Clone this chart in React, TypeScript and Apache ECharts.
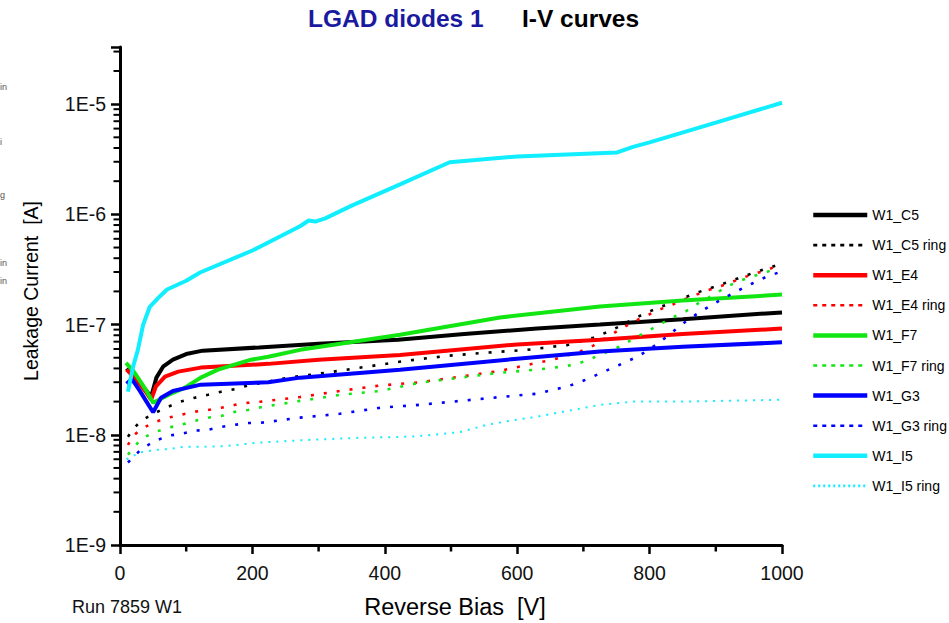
import React, { useEffect, useRef } from "react";
import * as echarts from "echarts";

// ---------- data (Reverse bias [V], leakage current [A]) ----------
const C5: [number, number][] = [
  [10, 4.0e-8], [20, 3.4e-8], [30, 2.9e-8], [40, 2.5e-8], [47, 2.2e-8], [55, 3.3e-8], [65, 4.15e-8],
  [80, 4.8e-8], [100, 5.4e-8], [125, 5.8e-8], [210, 6.2e-8], [300, 6.7e-8], [420, 7.3e-8], [520, 8.2e-8],
  [630, 9.2e-8], [725, 1.0e-7], [850, 1.12e-7], [1000, 1.29e-7],
];
const C5_RING: [number, number][] = [
  [12, 9.6e-9], [20, 1.13e-8], [32, 1.34e-8], [53, 1.58e-8], [73, 1.8e-8], [92, 2.0e-8], [113, 2.17e-8],
  [133, 2.31e-8], [153, 2.46e-8], [174, 2.6e-8], [193, 2.8e-8], [254, 3.3e-8], [312, 3.66e-8],
  [373, 4.15e-8], [433, 4.7e-8], [494, 5.2e-8], [554, 5.56e-8], [615, 5.9e-8], [654, 6.3e-8],
  [675, 6.5e-8], [715, 7.6e-8], [735, 8.5e-8], [754, 9.6e-8], [775, 1.12e-7], [795, 1.28e-7],
  [835, 1.6e-7], [875, 1.98e-7], [914, 2.38e-7], [955, 2.92e-7], [995, 3.5e-7],
];
const E4: [number, number][] = [
  [10, 3.9e-8], [20, 3.4e-8], [30, 2.9e-8], [40, 2.4e-8], [47, 2.08e-8], [54, 2.73e-8], [68, 3.37e-8],
  [88, 3.74e-8], [122, 4.07e-8], [224, 4.4e-8], [300, 4.8e-8], [423, 5.3e-8], [600, 6.6e-8],
  [725, 7.3e-8], [850, 8.2e-8], [1000, 9.2e-8],
];
const E4_RING: [number, number][] = [
  [12, 8.1e-9], [20, 9.8e-9], [32, 1.13e-8], [53, 1.31e-8], [73, 1.43e-8], [92, 1.52e-8], [113, 1.62e-8],
  [133, 1.68e-8], [153, 1.76e-8], [174, 1.87e-8], [193, 1.95e-8], [213, 2.0e-8], [272, 2.2e-8],
  [332, 2.5e-8], [393, 2.8e-8], [453, 3.0e-8], [514, 3.37e-8], [574, 3.8e-8], [630, 4.5e-8],
  [654, 4.8e-8], [695, 5.7e-8], [715, 6.45e-8], [752, 8.8e-8], [773, 1.04e-7], [795, 1.2e-7],
  [815, 1.37e-7], [835, 1.52e-7], [855, 1.72e-7], [875, 1.91e-7], [895, 2.12e-7], [914, 2.3e-7],
  [934, 2.57e-7], [955, 2.85e-7], [975, 3.1e-7], [995, 3.44e-7],
];
const F7: [number, number][] = [
  [9, 4.5e-8], [20, 3.8e-8], [30, 3.1e-8], [40, 2.5e-8], [50, 1.95e-8], [73, 2.3e-8], [98, 2.67e-8],
  [122, 3.3e-8], [148, 3.9e-8], [198, 4.8e-8], [224, 5.1e-8], [272, 5.9e-8], [423, 8.1e-8],
  [574, 1.16e-7], [725, 1.46e-7], [850, 1.65e-7], [1000, 1.87e-7],
];
const F7_RING: [number, number][] = [
  [12, 6.6e-9], [32, 9.2e-9], [53, 1.06e-8], [73, 1.16e-8], [92, 1.23e-8], [113, 1.34e-8], [133, 1.43e-8],
  [153, 1.48e-8], [174, 1.62e-8], [193, 1.68e-8], [213, 1.78e-8], [272, 2.03e-8], [332, 2.3e-8],
  [393, 2.5e-8], [453, 2.97e-8], [514, 3.3e-8], [574, 3.66e-8], [630, 3.9e-8], [675, 4.2e-8],
  [695, 4.5e-8], [715, 5.0e-8], [754, 6.3e-8], [775, 7.4e-8], [795, 8.6e-8], [815, 1.0e-7],
  [835, 1.16e-7], [855, 1.32e-7], [875, 1.58e-7], [895, 1.83e-7], [914, 2.17e-7], [934, 2.46e-7],
  [955, 2.73e-7], [975, 2.97e-7], [995, 3.3e-7],
];
const G3: [number, number][] = [
  [10, 2.9e-8], [18, 3.2e-8], [30, 2.5e-8], [40, 2.0e-8], [50, 1.6e-8], [62, 2.17e-8], [80, 2.5e-8],
  [122, 2.85e-8], [224, 3.0e-8], [272, 3.3e-8], [423, 3.9e-8], [600, 4.9e-8], [725, 5.7e-8],
  [850, 6.3e-8], [1000, 6.9e-8],
];
const G3_RING: [number, number][] = [
  [12, 5.6e-9], [32, 7.4e-9], [53, 8.8e-9], [73, 9.8e-9], [92, 1.02e-8], [113, 1.09e-8], [133, 1.11e-8],
  [153, 1.18e-8], [193, 1.28e-8], [211, 1.28e-8], [272, 1.43e-8], [332, 1.55e-8], [393, 1.76e-8],
  [453, 1.87e-8], [514, 2.03e-8], [574, 2.2e-8], [630, 2.36e-8], [674, 2.73e-8], [693, 2.97e-8],
  [714, 3.37e-8], [734, 3.8e-8], [754, 4.3e-8], [775, 4.9e-8], [795, 5.7e-8], [815, 6.9e-8],
  [835, 8.6e-8], [855, 1.07e-7], [875, 1.29e-7], [895, 1.52e-7], [914, 1.76e-7], [934, 2.04e-7],
  [955, 2.36e-7], [975, 2.69e-7], [995, 2.97e-7],
];
const I5: [number, number][] = [
  [12, 2.46e-8], [20, 4.2e-8], [27, 5.9e-8], [35, 1.0e-7], [45, 1.45e-7], [60, 1.8e-7], [71, 2.08e-7],
  [100, 2.5e-7], [121, 2.97e-7], [200, 4.7e-7], [272, 7.8e-7], [285, 8.8e-7], [295, 8.6e-7],
  [310, 9.2e-7], [350, 1.2e-6], [423, 1.87e-6], [498, 2.97e-6], [600, 3.35e-6], [751, 3.65e-6],
  [775, 4.1e-6], [800, 4.5e-6], [900, 6.8e-6], [1000, 1.03e-5],
];
const I5_RING: [number, number][] = [
  [10, 6.0e-9], [30, 6.9e-9], [53, 7.3e-9], [73, 7.4e-9], [98, 7.8e-9], [128, 7.8e-9], [159, 7.9e-9],
  [211, 8.5e-9], [287, 9.0e-9], [363, 9.4e-9], [438, 9.6e-9], [473, 1.0e-8], [514, 1.06e-8],
  [554, 1.23e-8], [589, 1.34e-8], [630, 1.46e-8], [725, 1.87e-8], [775, 2.0e-8], [850, 2.0e-8],
  [1000, 2.08e-8],
];

const SERIES_NAMES = [
  "W1_C5", "W1_C5 ring", "W1_E4", "W1_E4 ring", "W1_F7", "W1_F7 ring",
  "W1_G3", "W1_G3 ring", "W1_I5", "W1_I5 ring",
];
const SERIES_DATA = [C5, C5_RING, E4, E4_RING, F7, F7_RING, G3, G3_RING, I5, I5_RING];
const SERIES_COLORS = [
  "#000000", "#000000", "#ff0000", "#ff0000", "#12e612", "#12e612",
  "#0000ff", "#0000ff", "#10eeff", "#10eeff",
];

// axis definitions
const X_MIN = 0;
const X_MAX = 1000;
const X_INTERVAL = 200;
const X_MINOR_TICKS = [100, 300, 500, 700, 900];
const Y_MIN = 1e-9;
const Y_MAX = 3.3e-5;
const Y_DECADES = [-9, -8, -7, -6, -5];
const Y_MINOR_MULTS = [2, 3, 4, 5, 6, 7, 8, 9];

const TITLE_1 = "LGAD diodes 1";
const TITLE_2 = "I-V curves";
const X_NAME = "Reverse Bias  [V]";
const Y_NAME = "Leakage Current  [A]";
const RUN_LABEL = "Run 7859 W1";
const EDGE_FRAGMENTS = ["in", "i", "g", "in", "in"];

const SANS = "'Liberation Sans', Arial, sans-serif";

export default function App() {
  const ref = useRef<HTMLDivElement>(null);

  useEffect(() => {
    if (!ref.current) return;
    const chart = echarts.init(ref.current, undefined, { renderer: "svg" });

    const series: any[] = SERIES_NAMES.map((name, i) => {
      const isRing = name.endsWith("ring");
      const isCyanRing = name === "W1_I5 ring";
      return {
        name,
        type: "line",
        data: SERIES_DATA[i],
        symbol: "none",
        showSymbol: false,
        color: SERIES_COLORS[i],
        lineStyle: {
          color: SERIES_COLORS[i],
          width: isRing ? (isCyanRing ? 2 : 2.6) : 4,
          type: isRing ? (isCyanRing ? [2, 6] : [3, 10]) : "solid",
          cap: "butt",
        },
        z: 2 + i,
      };
    });

    const fragY = [87, 142, 195, 263, 281];

    const baseGraphics: any[] = [
      {
        type: "text",
        left: 308,
        top: 6,
        style: { text: TITLE_1, fontFamily: SANS, fontWeight: "bold", fontSize: 24.5, fill: "#1a1aa0" },
      },
      {
        type: "text",
        left: 522,
        top: 6,
        style: { text: TITLE_2, fontFamily: SANS, fontWeight: "bold", fontSize: 24.5, fill: "#000" },
      },
      {
        type: "text",
        x: 455,
        y: 607,
        style: {
          text: X_NAME, fontFamily: SANS, fontSize: 23.5, fill: "#000",
          align: "center", verticalAlign: "middle",
        },
      },
      {
        type: "text",
        x: 72,
        y: 607,
        style: {
          text: RUN_LABEL, fontFamily: SANS, fontSize: 18, fill: "#111",
          align: "left", verticalAlign: "middle",
        },
      },
      {
        type: "text",
        x: 31,
        y: 291,
        rotation: Math.PI / 2,
        style: {
          text: Y_NAME, fontFamily: SANS, fontSize: 19.5, fill: "#000",
          align: "center", verticalAlign: "middle",
        },
      },
      ...EDGE_FRAGMENTS.map((t, i) => ({
        type: "text",
        x: 0,
        y: fragY[i],
        style: { text: t, fontFamily: SANS, fontSize: 9, fill: "#555", verticalAlign: "middle" },
      })),
    ];

    chart.setOption({
      animation: false,
      backgroundColor: "#ffffff",
      grid: { left: 120, right: 167, top: 47, bottom: 78, containLabel: false },
      legend: {
        orient: "vertical",
        left: 811,
        top: 207,
        padding: 0,
        itemWidth: 54,
        itemHeight: 16,
        itemGap: 14.1,
        data: SERIES_NAMES.map((name) => {
          const isRing = name.endsWith("ring");
          const isCyanRing = name === "W1_I5 ring";
          return {
            name,
            lineStyle: isRing
              ? { type: isCyanRing ? [2, 3] : [4, 5], width: 2.6 }
              : { width: 4.5 },
          };
        }),
        itemStyle: { opacity: 0 },
        lineStyle: { width: "inherit" },
        textStyle: { fontFamily: SANS, fontSize: 14, color: "#000", lineHeight: 16 },
      },
      xAxis: {
        type: "value",
        min: X_MIN,
        max: X_MAX,
        interval: X_INTERVAL,
        axisLine: { show: true, lineStyle: { color: "#000", width: 3 } },
        axisTick: { show: true, inside: false, length: 9, lineStyle: { color: "#000", width: 2.5 } },
        splitLine: { show: false },
        axisLabel: {
          fontFamily: SANS,
          fontSize: 19.5,
          color: "#111",
          margin: 18,
          formatter: (v: number) => String(v),
        },
      },
      yAxis: {
        type: "log",
        logBase: 10,
        min: Y_MIN,
        max: Y_MAX,
        axisLine: { show: true, lineStyle: { color: "#000", width: 3 } },
        axisTick: { show: true, inside: false, length: 9, lineStyle: { color: "#000", width: 2.5 } },
        splitLine: { show: false },
        axisLabel: {
          fontFamily: SANS,
          fontSize: 19.5,
          color: "#111",
          margin: 14,
          formatter: (v: number) => {
            const e = Math.round(Math.log10(v));
            if (Math.abs(v - Math.pow(10, e)) / Math.pow(10, e) < 1e-6) return "1E" + e;
            return "";
          },
        },
      },
      graphic: baseGraphics,
      series,
    });

    // minor ticks: positions obtained from the chart's own axis scales
    const tickGraphics: any[] = [];
    Y_DECADES.forEach((d) =>
      Y_MINOR_MULTS.forEach((m) => {
        const v = m * Math.pow(10, d);
        if (v > Y_MAX) return;
        const p = chart.convertToPixel({ xAxisIndex: 0, yAxisIndex: 0 }, [X_MIN, v]) as number[];
        if (!p) return;
        tickGraphics.push({
          type: "line",
          z: 50,
          shape: { x1: p[0] - 6.5, y1: p[1], x2: p[0], y2: p[1] },
          style: { stroke: "#000", lineWidth: 2 },
        });
      })
    );
    X_MINOR_TICKS.forEach((v) => {
      const p = chart.convertToPixel({ xAxisIndex: 0, yAxisIndex: 0 }, [v, Y_MIN]) as number[];
      if (!p) return;
      tickGraphics.push({
        type: "line",
        z: 50,
        shape: { x1: p[0], y1: p[1], x2: p[0], y2: p[1] + 6.5 },
        style: { stroke: "#000", lineWidth: 2.5 },
      });
    });

    chart.setOption({ graphic: [...baseGraphics, ...tickGraphics] });

    return () => chart.dispose();
  }, []);

  return <div ref={ref} style={{ width: 949, height: 623, position: "absolute", left: 0, top: 0 }} />;
}
